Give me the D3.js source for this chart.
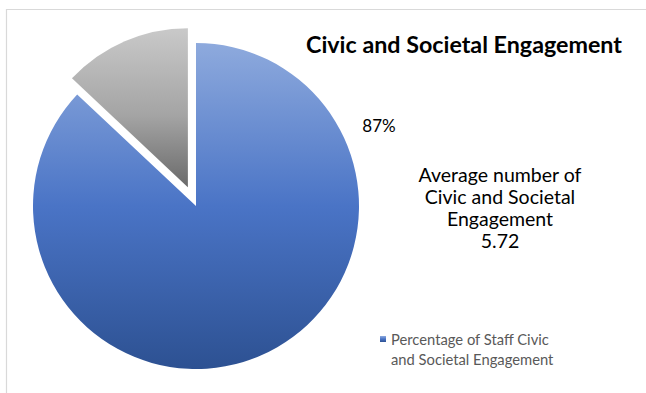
<!DOCTYPE html>
<html>
<head>
<meta charset="utf-8">
<script src="https://cdn.jsdelivr.net/npm/d3@7"></script>
<style>
  html, body { margin: 0; padding: 0; background: #fff; }
  svg { display: block; }
  text { font-family: Lato, "Open Sans", sans-serif; }
</style>
</head>
<body>
<svg id="chart"></svg>
<script>
// data
const categories = ["Percentage of Staff Civic and Societal Engagement", "Other"];
const values = [87, 13];
const labelText = ["87%"];
const legendLines = ["Percentage of Staff Civic", "and Societal Engagement"];
const noteLines = ["Average number of", "Civic and Societal", "Engagement", "5.72"];
const title = "Civic and Societal Engagement";

const width = 646, height = 393;
const cx = 196, cy = 206;
const radius = 163;
const explodedRadius = 159;
const explode = 20.5;

const svg = d3.select("#chart")
  .attr("width", width)
  .attr("height", height);

svg.append("rect")
  .attr("width", width).attr("height", height)
  .attr("fill", "#fff");

// chart frame (only top and left edges visible)
svg.append("path")
  .attr("d", `M6.5,${height} V9.5 H${width}`)
  .attr("fill", "none")
  .attr("stroke", "#d9d9d9")
  .attr("stroke-width", 1.2);

const defs = svg.append("defs");
const gradStops = [
  [["0%", "#8eaadd"], ["50%", "#4a74c6"], ["100%", "#2d5192"]],
  [["0%", "#c9c9c9"], ["55%", "#a4a4a4"], ["100%", "#6a6a6a"]]
];
gradStops.forEach((stops, i) => {
  const g = defs.append("linearGradient")
    .attr("id", "grad" + i)
    .attr("x1", 0).attr("y1", 0).attr("x2", 0).attr("y2", 1);
  stops.forEach(s => g.append("stop").attr("offset", s[0]).attr("stop-color", s[1]));
});

const pie = d3.pie().sort(null).value(d => d)
  .startAngle(0).endAngle(2 * Math.PI);
const arcs = pie(values);

const arcMain = d3.arc().innerRadius(0).outerRadius(radius);
const arcExpl = d3.arc().innerRadius(0).outerRadius(explodedRadius);

const g = svg.append("g").attr("transform", `translate(${cx},${cy})`);

g.selectAll("path.slice")
  .data(arcs)
  .enter()
  .append("path")
  .attr("class", "slice")
  .attr("d", (d, i) => i === 0 ? arcMain(d) : arcExpl(d))
  .attr("fill", (d, i) => `url(#grad${i})`)
  .attr("transform", (d, i) => {
    if (i === 0) return null;
    const a = (d.startAngle + d.endAngle) / 2;
    return `translate(${Math.sin(a) * explode},${-Math.cos(a) * explode})`;
  });

// scale a text's font size so it spans the wanted width
function fitWidth(sel, w) {
  const fs = +sel.attr("font-size");
  const len = sel.node().getComputedTextLength();
  if (len > 0) sel.attr("font-size", fs * w / len);
}

// data label
svg.append("text")
  .attr("x", 379).attr("y", 132)
  .attr("text-anchor", "middle")
  .attr("font-size", 17)
  .attr("fill", "#000")
  .text(labelText[0]);

// title
const titleText = svg.append("text")
  .attr("x", 464).attr("y", 53)
  .attr("text-anchor", "middle")
  .attr("font-size", 20)
  .attr("font-weight", "bold")
  .attr("fill", "#000")
  .text(title);
fitWidth(titleText, 316);

// average note
const note = svg.append("g").selectAll("text")
  .data(noteLines)
  .enter()
  .append("text")
  .attr("x", 500)
  .attr("y", (d, i) => 182 + i * 22)
  .attr("text-anchor", "middle")
  .attr("font-size", 18)
  .attr("fill", "#000")
  .text(d => d);
const noteFirst = d3.select(note.nodes()[0]);
fitWidth(noteFirst, 163);
note.attr("font-size", noteFirst.attr("font-size"));

// legend
const legend = svg.append("g");
legend.append("rect")
  .attr("x", 380).attr("y", 336)
  .attr("width", 6).attr("height", 6)
  .attr("fill", "url(#grad0)");
const legendText = legend.selectAll("text")
  .data(legendLines)
  .enter()
  .append("text")
  .attr("x", 391)
  .attr("y", (d, i) => 345 + i * 20)
  .attr("font-size", 14)
  .attr("fill", "#595959")
  .text(d => d);
const legFirst = d3.select(legendText.nodes()[0]);
fitWidth(legFirst, 158);
legendText.attr("font-size", legFirst.attr("font-size"));
</script>
</body>
</html>
